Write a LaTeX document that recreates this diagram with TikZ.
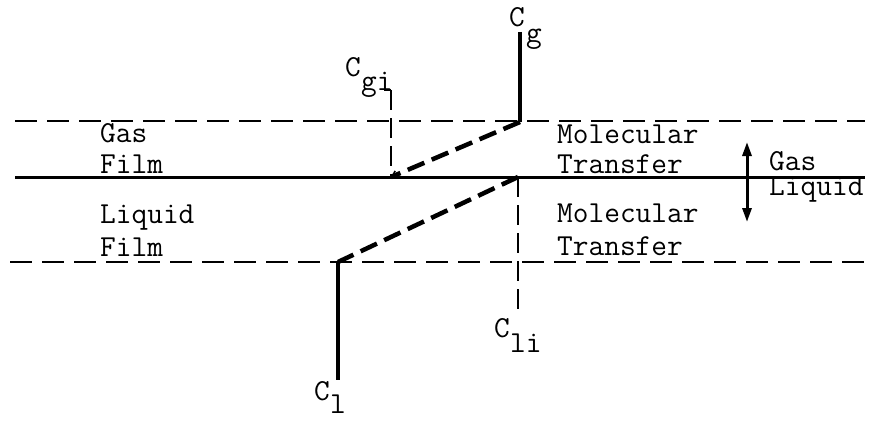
\documentclass[tikz,border=0pt]{standalone}
\usetikzlibrary{arrows.meta}
\begin{document}
\begin{tikzpicture}[x=1pt,y=-1pt,
  lbl/.style={font=\ttfamily\fontsize{30.5}{33}\selectfont, inner sep=0pt, anchor=base west},
  filmline/.style={line width=2pt, dash pattern=on 22pt off 10pt},
  thinguide/.style={line width=1.6pt, dash pattern=on 20pt off 8pt},
  profile/.style={line width=4.5pt, dash pattern=on 18pt off 8pt},
  thickbar/.style={line width=4.5pt},
  iface/.style={line width=3pt}]
\useasboundingbox (0,0) rectangle (869,420);
% coordinates
\coordinate (tl) at (15,121);
\coordinate (tr) at (865,121);
\coordinate (il) at (15,177);
\coordinate (ir) at (865,177);
\coordinate (bl) at (10,262);
\coordinate (br) at (865,262);
\coordinate (cgtop) at (520,32);
\coordinate (cgbot) at (520,122);
\coordinate (cgi) at (391,177);
\coordinate (cgitop) at (391,90);
\coordinate (cli) at (518,177);
\coordinate (clibot) at (518,313);
\coordinate (cltop) at (338,262);
\coordinate (clbot) at (338,380);
\coordinate (arrtop) at (747,142);
\coordinate (arrbot) at (747,222);
% lines
\draw[filmline] (tl) -- (tr);
\draw[iface] (il) -- (ir);
\draw[filmline] (bl) -- (br);
\draw[thickbar] (cgtop) -- (cgbot);
\draw[thickbar] (cltop) -- (clbot);
\draw[thinguide] (cgitop) -- (cgi);
\draw[thinguide] (cli) -- (clibot);
\draw[line width=1.6pt] (384,90) -- (391,90);
\draw[profile] (cgbot) -- (cgi);
\draw[line width=1.5pt, -{Straight Barb[length=5pt,width=8pt]}] (398,174) -- (cgi);
\draw[profile] (cli) -- (cltop);
\draw[line width=3pt, {Triangle[length=14pt,width=9pt]}-{Triangle[length=14pt,width=9pt]}] (arrtop) -- (arrbot);
% labels
\node[lbl] (cgC) at (509,27) {C};
\node[lbl] (cgS) at (526,42) {g};
\node[lbl] (cgiC) at (345,77) {C};
\node[lbl] (cgiS) at (361,90) {gi};
\node[lbl] (cliC) at (494,337) {C};
\node[lbl] (cliS) at (510,352) {li};
\node[lbl] (clC) at (314,400) {C};
\node[lbl] (clS) at (330,413) {l};
\node[lbl] (gas) at (100,142) {Gas};
\node[lbl] (film1) at (100,173) {Film};
\node[lbl] (liq) at (100,223) {Liquid};
\node[lbl] (film2) at (100,256) {Film};
\node[lbl] (mol1) at (557,143) {Molecular};
\node[lbl] (tr1) at (557,173) {Transfer};
\node[lbl] (mol2) at (557,222) {Molecular};
\node[lbl] (tr2) at (557,255) {Transfer};
\node[lbl] (gasr) at (769,170) {Gas};
\node[lbl] (liqr) at (769,195) {Liquid};
\end{tikzpicture}
\end{document}
